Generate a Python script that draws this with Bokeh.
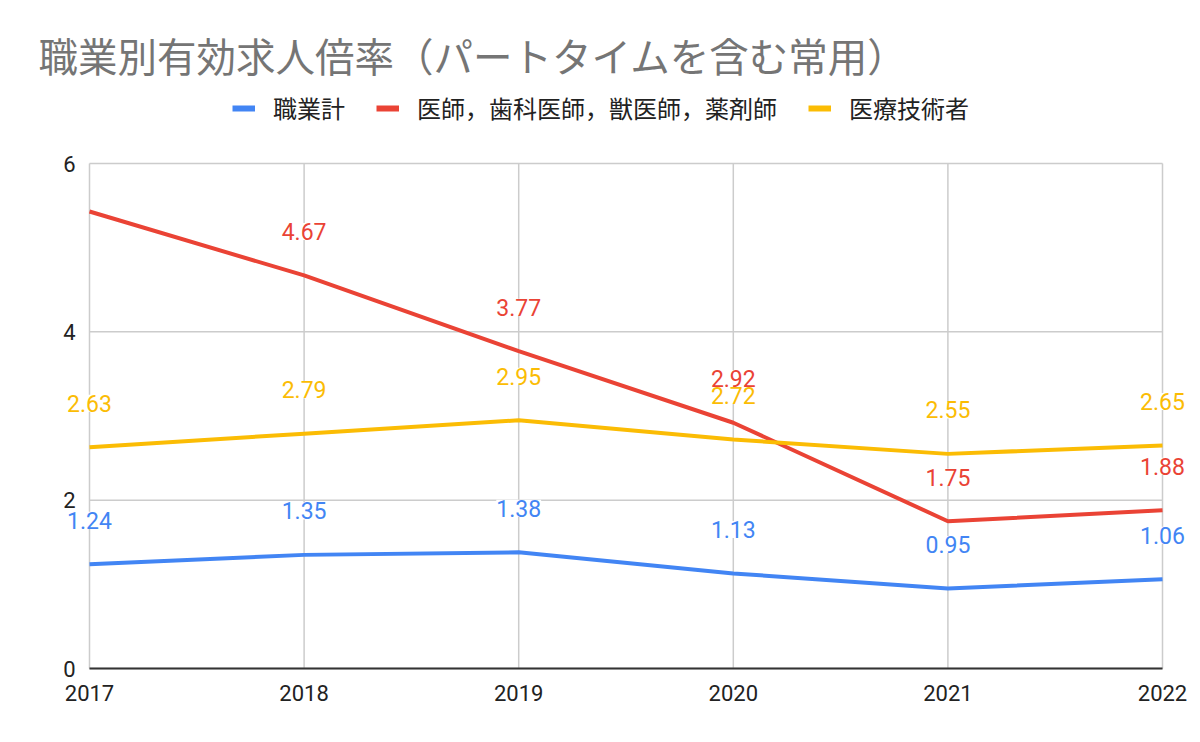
from bokeh.plotting import figure
from bokeh.models import ColumnDataSource, Legend, LegendItem, Range1d, Label
from bokeh.core.properties import value
from bokeh.embed import file_html
from bokeh.resources import INLINE

years = [2017, 2018, 2019, 2020, 2021, 2022]
series_names = ["職業計", "医師，歯科医師，獣医師，薬剤師", "医療技術者"]
total = [1.24, 1.35, 1.38, 1.13, 0.95, 1.06]
doctors = [5.43, 4.67, 3.77, 2.92, 1.75, 1.88]
medtech = [2.63, 2.79, 2.95, 2.72, 2.55, 2.65]
doctor_labels = ["", "4.67", "3.77", "2.92", "1.75", "1.88"]
y_ticks = [0, 2, 4, 6]
x_tick_labels = ["2017", "2018", "2019", "2020", "2021", "2022"]
y_tick_labels = ["0", "2", "4", "6"]
colors = ["#4285F4", "#EA4335", "#FBBC04"]
title_text = "職業別有効求人倍率（パートタイムを含む常用）"

CJK = "Noto Sans CJK JP"
NUM = "Roboto"

# layout (pixels) of the plotting area inside the 1200x742 canvas
W, H = 1200, 742
L, R, T, B = 89, 1162, 163, 668
xmin, xmax = years[0], years[-1]
ymin, ymax = y_ticks[0], y_ticks[-1]
sx = (R - L) / (xmax - xmin)
sy = (B - T) / (ymax - ymin)

p = figure(width=W, height=H, output_backend="svg", toolbar_location=None,
           x_range=Range1d(xmin - L / sx, xmax + (W - R) / sx),
           y_range=Range1d(ymin - (H - B) / sy, ymax + T / sy),
           x_axis_type=None, y_axis_type=None,
           min_border=0, min_border_left=0, min_border_right=0,
           min_border_top=0, min_border_bottom=0)
p.outline_line_color = None
p.background_fill_color = "white"
p.border_fill_color = "white"
p.grid.visible = False

# grid
p.segment(x0=years, x1=years, y0=[ymin] * len(years), y1=[ymax] * len(years),
          line_color="#cccccc", line_width=1.5)
p.segment(x0=[xmin] * len(y_ticks), x1=[xmax] * len(y_ticks), y0=y_ticks, y1=y_ticks,
          line_color="#cccccc", line_width=1.5)
# x axis line
p.segment(x0=[xmin], x1=[xmax], y0=[ymin], y1=[ymin], line_color="#333333", line_width=2)

# tick labels
p.text(x=years, y=[ymin] * len(years), text=x_tick_labels, text_font=value(NUM),
       text_font_size="22px", text_color="#222222", text_align="center",
       text_baseline="middle", y_offset=24)
p.text(x=[xmin] * len(y_ticks), y=y_ticks, text=y_tick_labels, text_font=value(NUM),
       text_font_size="22px", text_color="#222222", text_align="right",
       text_baseline="middle", x_offset=-14)

datas = [total, doctors, medtech]
label_lists = [[f"{v:.2f}" for v in total], doctor_labels, [f"{v:.2f}" for v in medtech]]

legend_items = []
for name, vals, col in zip(series_names, datas, colors):
    src = ColumnDataSource(dict(x=years, y=vals))
    p.line("x", "y", source=src, line_color=col, line_width=4)
    swatch = p.line("x", "y", source=src, line_color=col, line_width=6, visible=False)
    legend_items.append(LegendItem(label=name, renderers=[swatch]))

# data labels: blue, red, then yellow (yellow boxes cover red where overlapping)
for vals, labs, col in zip(datas, label_lists, colors):
    src = ColumnDataSource(dict(x=years, y=vals, t=labs))
    p.text("x", "y", text="t", source=src, text_color=col, text_font=value(NUM),
           text_font_size="23px", text_align="center", text_baseline="middle",
           y_offset=-44, background_fill_color="white")

legend = Legend(items=legend_items, orientation="horizontal", location=(232, H - 113 - 12),
                label_text_font=CJK, label_text_font_size="24px", label_text_color="#222222",
                glyph_width=23, glyph_height=24, label_height=24, label_standoff=18, spacing=31,
                border_line_color=None, background_fill_alpha=0, margin=0, padding=0,
                click_policy="none")
p.add_layout(legend, "center")

title = Label(x=38, y=H - 54, x_units="screen", y_units="screen", text=title_text,
              text_font=CJK, text_font_size="39.5px", text_color="#757575",
              text_baseline="middle", text_align="left")
p.add_layout(title)

open("out.html", "w").write(file_html(p, INLINE))
